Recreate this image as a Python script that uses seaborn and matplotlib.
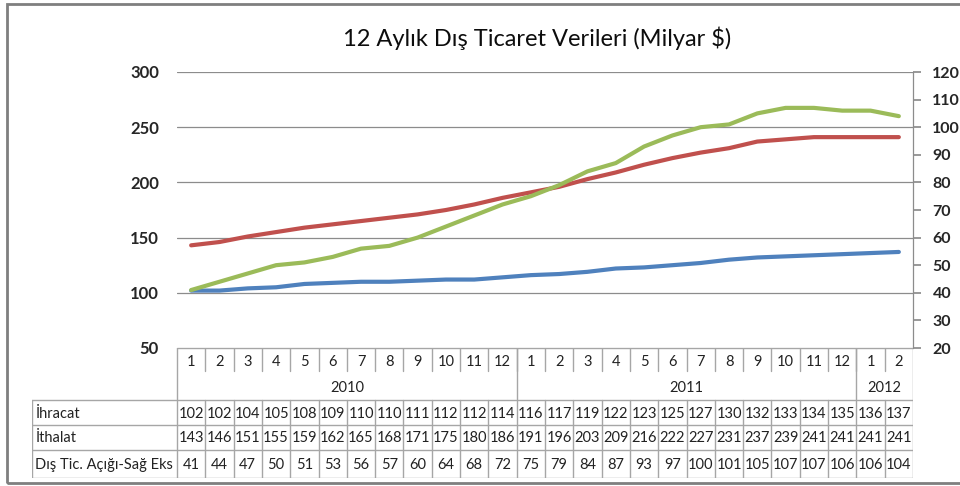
import numpy as np
import pandas as pd
import seaborn as sns
import matplotlib.pyplot as plt
from matplotlib.patches import Rectangle

sns.set_theme(style='white')
plt.rcParams['font.family'] = ['Lato', 'DejaVu Sans']

months = ['1', '2', '3', '4', '5', '6', '7', '8', '9', '10', '11', '12',
          '1', '2', '3', '4', '5', '6', '7', '8', '9', '10', '11', '12',
          '1', '2']
years = ['2010', '2011', '2012']
year_len = [12, 12, 2]
ihracat = [102, 102, 104, 105, 108, 109, 110, 110, 111, 112, 112, 114,
           116, 117, 119, 122, 123, 125, 127, 130, 132, 133, 134, 135, 136, 137]
ithalat = [143, 146, 151, 155, 159, 162, 165, 168, 171, 175, 180, 186,
           191, 196, 203, 209, 216, 222, 227, 231, 237, 239, 241, 241, 241, 241]
acik = [41, 44, 47, 50, 51, 53, 56, 57, 60, 64, 68, 72,
        75, 79, 84, 87, 93, 97, 100, 101, 105, 107, 107, 106, 106, 104]
row_names = ['İhracat', 'İthalat', 'Dış Tic. Açığı-Sağ Eks']

blue, red, green = '#4F81BD', '#C0504D', '#9BBB59'
grid = '#8C8C8C'
tline = '#A6A6A6'

W, H = 960, 486
fig = plt.figure(figsize=(W / 100, H / 100), dpi=100)

def rect(x0, y0, x1, y1):
    return [x0 / W, 1 - y1 / H, (x1 - x0) / W, (y1 - y0) / H]

# outer frame
fig.patches.append(Rectangle((7 / W, 1 - 483 / H), 1.0, (483 - 4) / H,
                             transform=fig.transFigure, fill=False,
                             edgecolor='#7F7F7F', linewidth=2))

fig.text(537 / W, 1 - 38 / H, '12 Aylık Dış Ticaret Verileri (Milyar $)',
         ha='center', va='center', fontsize=17, color='#0d0d0d')

df = pd.DataFrame({'i': np.arange(len(months)), 'ihracat': ihracat,
                   'ithalat': ithalat, 'acik': acik})

ax = fig.add_axes(rect(177, 72, 913, 348))
sns.lineplot(data=df, x='i', y='ihracat', ax=ax, color=blue, linewidth=3)
sns.lineplot(data=df, x='i', y='ithalat', ax=ax, color=red, linewidth=3)
ax.set_xlim(-0.5, len(months) - 0.5)
ax.set_ylim(50, 300)
ax.set_yticks([50, 100, 150, 200, 250, 300])
ax.yaxis.grid(True, color=grid, linewidth=0.9)
ax.set_axisbelow(True)
for s in ['left', 'top', 'bottom', 'right']:
    ax.spines[s].set_visible(False)
ax.set_xticks([])
ax.set_xlabel('')
ax.set_ylabel('')
ax.tick_params(axis='y', length=0, pad=13, labelsize=12)
for t in ax.get_yticklabels():
    t.set_fontweight('bold')

ax2 = ax.twinx()
sns.lineplot(data=df, x='i', y='acik', ax=ax2, color=green, linewidth=3)
ax2.set_ylim(20, 120)
ax2.set_yticks(range(20, 121, 10))
for s in ['left', 'top', 'bottom']:
    ax2.spines[s].set_visible(False)
ax2.spines['right'].set_color(grid)
ax2.spines['right'].set_linewidth(0.9)
ax2.tick_params(axis='y', length=6, color=grid, direction='out', pad=8,
                labelsize=11.5, right=True)
for t in ax2.get_yticklabels():
    t.set_fontweight('bold')
ax2.set_ylabel('')
ax2.set_xlim(-0.5, len(months) - 0.5)

# data table
n = len(months)
colw = (913 - 177) / n
lab = (177 - 32) / colw
tab = fig.add_axes(rect(32, 348, 913, 478))
tab.set_xlim(-0.5 - lab, n - 0.5)
tab.set_ylim(130, 0)
tab.axis('off')
rows = [0, 26, 52, 77, 102, 130]
lk = dict(color=tline, linewidth=1)
x0, x1 = -0.5, n - 0.5
tab.plot([x0, x1], [rows[0], rows[0]], **lk)
tab.plot([x0, x0], [rows[0], rows[2]], **lk)
for i in range(1, n):
    tab.plot([i - 0.5, i - 0.5], [rows[0], 23], **lk)
pos = 0
for y, L in zip(years, year_len):
    tab.text(pos + L / 2 - 0.5, (rows[1] + rows[2]) / 2 + 1, y, ha='center',
             va='center', fontsize=10.5, color='#222222')
    pos += L
    tab.plot([pos - 0.5, pos - 0.5], [rows[0], rows[2]], **lk)
for i, m in enumerate(months):
    tab.text(i, (rows[0] + rows[1]) / 2 + 1, m, ha='center', va='center',
             fontsize=10.5, color='#222222')
xl = -0.5 - lab
for r in range(2, 6):
    tab.plot([xl, x1], [rows[r], rows[r]], **lk)
for r in range(2, 5):
    tab.plot([xl, xl], [rows[r], rows[r + 1]], **lk)
    for i in range(n + 1):
        tab.plot([i - 0.5, i - 0.5], [rows[r], rows[r + 1]], **lk)
for r, (name, vals) in enumerate(zip(row_names, [ihracat, ithalat, acik])):
    yc = (rows[r + 2] + rows[r + 3]) / 2 + 1
    tab.text(xl + 0.12, yc, name, ha='left', va='center', fontsize=10.5,
             color='#222222')
    for i, v in enumerate(vals):
        tab.text(i, yc, str(v), ha='center', va='center', fontsize=10.5,
                 color='#222222')

fig.savefig('out.png', dpi=100)
